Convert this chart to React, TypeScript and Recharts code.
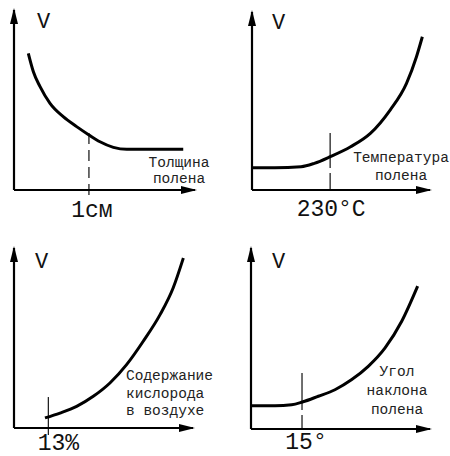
import React from 'react';
import { LineChart, Line, XAxis, YAxis, ReferenceLine, Label } from 'recharts';

// curve shapes, x and V in relative units (0..100 of each plot)
const thicknessX = [7.9, 10.7, 14.4, 19.9, 27.2, 34.6, 41.4, 47.5, 54.9, 62.3, 75.1, 93.5];
const thicknessV = [75.9, 65.7, 57.4, 48.1, 40.7, 35.2, 30.6, 26.8, 23.7, 22.6, 22.6, 22.6];

const temperatureX = [0, 12.8, 27.6, 35, 43.9, 55.4, 66.5, 77.6, 86.8, 92.4, 95.7];
const temperatureV = [12.5, 12.5, 13.1, 15, 18.7, 24.3, 31.8, 44.9, 59.9, 74.9, 86.1];

const oxygenX = [17.3, 25.7, 35, 44.3, 53.6, 62.9, 72.2, 81.6, 88.9, 94.6];
const oxygenV = [5.6, 8.3, 12, 17.6, 25, 35.2, 48.2, 63, 77.8, 94.4];

const slopeX = [0, 13.4, 22.7, 28.7, 37.6, 46.9, 56.3, 65.5, 74.9, 84.2, 93.1];
const slopeV = [12.9, 12.9, 13.4, 14.9, 18.1, 21.7, 27.3, 34.6, 44.8, 59.5, 78.9];

// critical point on each x axis and its label
const markX = [41.4, 43.9, 19.2, 28.5];
const markLabels = ['1см', '230°C', '13%', '15°'];

const axisNames = [
  ['Толщина', 'полена'],
  ['Температура', 'полена'],
  ['Содержание', 'кислорода', 'в воздухе'],
  ['Угол', 'наклона', 'полена'],
];

// vertical marker pieces (V from / to)
const markSegments = [
  [[31.7, -2.8]],
  [[32, 12.4], [9.6, 0]],
  [[17.2, -3.9]],
  [[30.9, 10.5], [7.7, -0.5]],
];

const zip = (xs: number[], vs: number[]) => xs.map((x, i) => ({ x, v: vs[i] }));

const FONT = '"Liberation Mono", "DejaVu Sans Mono", monospace';

// margins already leave 1px for each axis (axes of size 0 are not drawn)
const panels = [
  {
    left: 0, top: 0, data: zip(thicknessX, thicknessV),
    margin: { top: 10, left: 13, right: 30, bottom: 37 },
    tickDx: 3, tickDy: 27, vX: 37, vY: 28,
    descX: 179, descY: [167, 183], anchor: 'middle', dashed: true,
  },
  {
    left: 225, top: 0, data: zip(temperatureX, temperatureV),
    margin: { top: 12, left: 26, right: 20, bottom: 37 },
    tickDx: 1, tickDy: 26, vX: 47, vY: 29,
    descX: 176, descY: [162, 180], anchor: 'middle', dashed: false,
  },
  {
    left: 0, top: 228, data: zip(oxygenX, oxygenV),
    margin: { top: 20, left: 13, right: 32, bottom: 27 },
    tickDx: 10, tickDy: 22, vX: 35, vY: 40,
    descX: 126, descY: [152, 170, 187], anchor: 'start', dashed: false,
  },
  {
    left: 225, top: 228, data: zip(slopeX, slopeV),
    margin: { top: 20, left: 25, right: 20, bottom: 26 },
    tickDx: 4, tickDy: 20, vX: 47, vY: 40,
    descX: 172, descY: [148, 167, 186], anchor: 'middle', dashed: false,
  },
];

const axisLineX = { stroke: '#000', strokeWidth: 2.2, markerEnd: 'url(#arrowHead)' };
const axisLineY = { stroke: '#000', strokeWidth: 2.2, markerStart: 'url(#arrowHead)' };

const Panel = ({ p, i }) => {
  const renderTick = (props) => (
    <text x={props.x + p.tickDx} y={props.y + p.tickDy} textAnchor="middle"
      fontFamily={FONT} fontSize={23} fill="#111">
      {markLabels[i]}
    </text>
  );

  return (
    <div style={{ position: 'absolute', left: p.left, top: p.top }}>
      <LineChart width={225} height={228} data={p.data} margin={p.margin} style={{ overflow: 'visible' }}>
        <XAxis dataKey="x" type="number" domain={[0, 100]} allowDataOverflow
          height={1} ticks={[markX[i]]} interval={0} tick={renderTick}
          tickLine={false} tickSize={0} tickMargin={0} axisLine={axisLineX}>
          <Label content={() => (
            <text fontFamily={FONT} fontSize={14.5} fill="#222" textAnchor={p.anchor}>
              {axisNames[i].map((s, k) => (
                <tspan key={k} x={p.descX} y={p.descY[k]}>{s}</tspan>
              ))}
            </text>
          )} />
        </XAxis>
        <YAxis type="number" domain={[0, 100]} allowDataOverflow width={1}
          tick={false} tickLine={false} axisLine={axisLineY}>
          <Label content={() => (
            <text x={p.vX} y={p.vY} fontFamily={FONT} fontSize={22} fill="#111">V</text>
          )} />
        </YAxis>
        {markSegments[i].map((s, k) => (
          <ReferenceLine key={k} segment={[{ x: markX[i], y: s[0] }, { x: markX[i], y: s[1] }]}
            stroke="#222" strokeWidth={1.3} ifOverflow="visible"
            strokeDasharray={p.dashed ? '11 6' : undefined} />
        ))}
        <Line dataKey="v" type="monotone" stroke="#000" strokeWidth={3}
          dot={false} activeDot={false} isAnimationActive={false} />
      </LineChart>
    </div>
  );
};

export default function App() {
  return (
    <div style={{ position: 'absolute', left: 0, top: 0, width: 450, height: 456, background: '#fff' }}>
      <svg width={0} height={0} style={{ position: 'absolute' }}>
        <defs>
          <marker id="arrowHead" viewBox="0 0 16 8" refX={14} refY={4} markerWidth={16} markerHeight={8}
            markerUnits="userSpaceOnUse" orient="auto-start-reverse">
            <path d="M0,0 L16,4 L0,8 z" fill="#000" />
          </marker>
        </defs>
      </svg>
      {panels.map((p, i) => <Panel key={i} p={p} i={i} />)}
    </div>
  );
}
